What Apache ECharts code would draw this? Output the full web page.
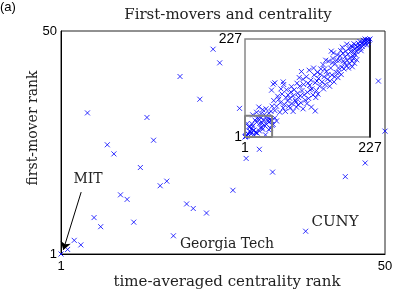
<!DOCTYPE html>
<html><head><meta charset="utf-8">
<script src="https://cdn.jsdelivr.net/npm/echarts@6/dist/echarts.min.js"></script>
<style>html,body{margin:0;padding:0;background:#fff}#c{width:411px;height:296px}</style>
</head><body><div id="c"></div>
<script>
// main plot: ranks 1..50 (visible points)
const mainX = [5,8,14,15,19,22,24,25,28,9,13,16,17,27,10,11,20,21,23,6,7,12,18,3,4,2,1,31,29,33,47,44,38,49,50];
const mainY = [32,25,31,26,40,35,46,43,33,23,20,16,17,15,14,13,12,11,10,9,7,8,5,4,3,2,1,24,22,19,21,18,6,39,28];
// inset: additional points (full 1..227 ranking)
const extraX = [35,40,43,45,38,32,46,30,36,42,
  26,33,39,48,22,30,44,15,36,50,52,55,58,
  55,70,52,71,49,60,65,58,62,68,72,75,78,55,64,70,76,80,53,66,74,79,
  85,103,106,82,84,86,88,90,92,94,96,98,100,102,104,106,108,110,88,95,99,93,101,107,83,97,
  128,112,114,116,118,120,122,124,126,128,130,132,134,136,138,140,113,117,121,125,129,133,137,119,131,115,
  142,157,144,146,148,150,152,154,156,158,160,162,164,166,168,170,143,147,151,155,159,163,167,169,145,161,
  172,174,176,178,180,181,182,183,184,185,186,187,188,189,190,191,192,193,194,195,171,173,175,177,179,
  227,225,223,222,220,219,217,216,214,213,212,210,209,208,206,205,204,203,201,200,199,198,197,196,195,224,221,218,215,211,197,199,201,203];
const extraY = [40,30,44,36,47,33,42,45,28,38,
  70,64,66,60,58,55,56,52,53,72,30,45,38,
  126,128,123,122,109,95,80,72,88,100,76,92,84,62,58,68,110,72,85,112,60,98,
  117,152,134,90,105,78,96,110,86,70,102,92,118,80,108,66,98,86,60,125,138,82,96,122,68,75,
  61,140,104,90,120,132,112,98,144,126,108,150,136,118,158,128,78,155,70,160,92,100,146,110,130,125,
  168,199,140,122,152,134,176,118,160,144,182,128,170,150,190,160,112,178,145,130,172,140,178,138,158,195,
  178,200,162,194,158,172,186,199,166,215,178,192,160,205,170,184,198,211,176,163,150,188,145,208,176,
  227,224,226,221,225,218,222,214,219,210,216,206,221,212,217,203,209,198,213,205,193,216,200,188,209,219,213,227,224,200,182,171,190,179];
const mainTicks = [1, 50];
const insetTicks = [1, 227];
const titleText = 'First-movers and centrality';
const xName = 'time-averaged centrality rank';
const yName = 'first-mover rank';
const notes = ['MIT', 'Georgia Tech', 'CUNY'];

const mainData = mainX.map((x, i) => [x, mainY[i]]);
const insetData = mainData.concat(extraX.map((x, i) => [x, extraY[i]]));
const lo = mainTicks[0], hi = mainTicks[1];
const zoomBox = [[lo, lo], [hi, lo], [hi, hi], [lo, hi], [lo, lo]];

const blue = '#0000ff';
const cross = 'path://M0 0L10 10M10 0L0 10';
const crossStyle = {color: 'rgba(0,0,0,0)', borderColor: blue, borderWidth: 1};
const serif = 'DejaVu Serif';
const sans = 'Liberation Sans';

const chart = echarts.init(document.getElementById('c'));
chart.setOption({
  animation: false,
  backgroundColor: '#fff',
  grid: [
    {left: 61, top: 31, width: 324, height: 223, show: true, borderColor: '#222', borderWidth: 1, backgroundColor: 'transparent'},
    {left: 245, top: 39, width: 125, height: 98, show: true, borderColor: '#888', borderWidth: 1.5, backgroundColor: '#fff', z: 3}
  ],
  xAxis: [
    {type: 'value', gridIndex: 0, min: lo, max: hi, splitLine: {show: false},
     axisLine: {show: true, onZero: false, lineStyle: {color: '#000'}}, axisTick: {show: false},
     axisLabel: {customValues: mainTicks, margin: 6, fontFamily: sans, fontSize: 13, color: '#000'}},
    {type: 'value', gridIndex: 1, min: insetTicks[0], max: insetTicks[1], splitLine: {show: false},
     axisLine: {show: false}, axisTick: {show: false}, z: 4,
     axisLabel: {customValues: insetTicks, margin: 4, fontFamily: sans, fontSize: 14, color: '#000'}}
  ],
  yAxis: [
    {type: 'value', gridIndex: 0, min: lo, max: hi, splitLine: {show: false},
     axisLine: {show: true, onZero: false, lineStyle: {color: '#000'}}, axisTick: {show: false},
     axisLabel: {customValues: mainTicks, margin: 4, fontFamily: sans, fontSize: 13, color: '#000'}},
    {type: 'value', gridIndex: 1, min: insetTicks[0], max: insetTicks[1], splitLine: {show: false},
     axisLine: {show: false}, axisTick: {show: false}, z: 4,
     axisLabel: {customValues: insetTicks, margin: 3, fontFamily: sans, fontSize: 14, color: '#000'}},
    {type: 'value', gridIndex: 1, position: 'right', min: insetTicks[0], max: insetTicks[1], splitLine: {show: false},
     axisLine: {show: true, onZero: false, lineStyle: {color: '#000', width: 1.5}}, axisTick: {show: false},
     axisLabel: {show: false}, z: 4}
  ],
  series: [
    {type: 'scatter', xAxisIndex: 0, yAxisIndex: 0, data: mainData, symbol: cross, symbolSize: 5,
     itemStyle: crossStyle, z: 2,
     markLine: {silent: true, symbol: ['none', 'arrow'], symbolSize: 8, label: {show: false},
       lineStyle: {color: '#000', width: 1, type: 'solid'},
       data: [[{coord: [4.05, 14.6]}, {coord: [1.35, 1.9]}]]}},
    {type: 'scatter', xAxisIndex: 1, yAxisIndex: 1, data: insetData, symbol: cross, symbolSize: 5,
     itemStyle: crossStyle, z: 5},
    {type: 'line', xAxisIndex: 1, yAxisIndex: 1, data: zoomBox, symbol: 'none', silent: true,
     lineStyle: {color: '#808080', width: 2}, z: 6}
  ],
  graphic: [
    {type: 'text', left: 0, top: 1, style: {text: '(a)', font: '13px ' + sans, fill: '#000'}},
    {type: 'text', x: 228, y: 15, style: {text: titleText, font: '15px "' + serif + '"', fill: '#222', textAlign: 'center', textVerticalAlign: 'middle'}},
    {type: 'text', x: 227, y: 282, style: {text: xName, font: '15px "' + serif + '"', fill: '#222', textAlign: 'center', textVerticalAlign: 'middle'}},
    {type: 'text', x: 33, y: 128, rotation: Math.PI / 2, style: {text: yName, font: '14px "' + serif + '"', fill: '#222', textAlign: 'center', textVerticalAlign: 'middle'}},
    {type: 'text', x: 88, y: 179, style: {text: notes[0], font: '14px "' + serif + '"', fill: '#222', textAlign: 'center', textVerticalAlign: 'middle'}},
    {type: 'text', x: 227, y: 244, style: {text: notes[1], font: '14px "' + serif + '"', fill: '#222', textAlign: 'center', textVerticalAlign: 'middle'}},
    {type: 'text', x: 335, y: 222, style: {text: notes[2], font: '15px "' + serif + '"', fill: '#222', textAlign: 'center', textVerticalAlign: 'middle'}}
  ]
});
</script>
</body></html>
